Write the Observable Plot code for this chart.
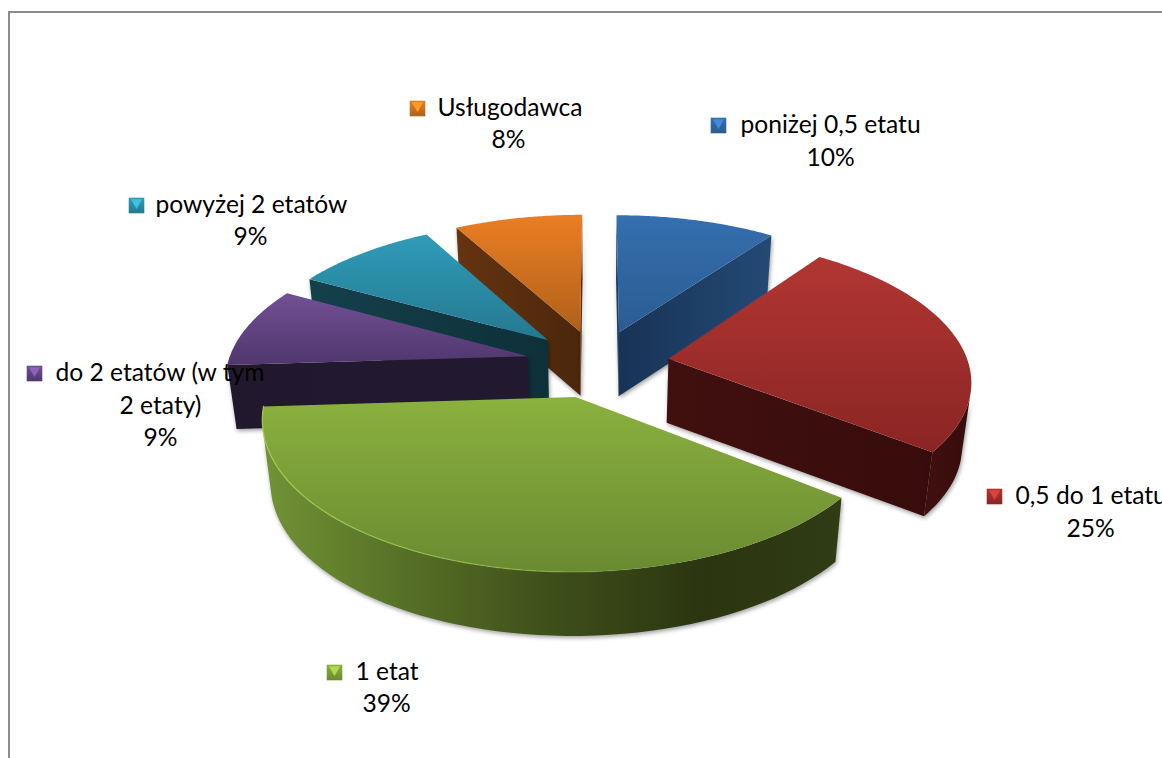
<!DOCTYPE html>
<html lang="pl">
<head>
<meta charset="utf-8">
<script src="https://cdn.jsdelivr.net/npm/d3@7"></script>
<script src="https://cdn.jsdelivr.net/npm/@observablehq/plot@0.6"></script>
<style>
  html, body { margin: 0; padding: 0; background: #fff; overflow: hidden; width: 1162px; height: 758px; }
  #frame { position: absolute; left: 8px; top: 11px; right: 0; bottom: 0; border-left: 2px solid #8c8c8c; border-top: 2px solid #8c8c8c; }
  #chart { position: absolute; left: 0; top: 0; }
</style>
</head>
<body>
<div id="frame"></div>
<div id="chart"></div>
<script>
// ---- data ----
const categories = ["poniżej 0,5 etatu", "0,5 do 1 etatu", "1 etat", "do 2 etatów (w tym 2 etaty)", "powyżej 2 etatów", "Usługodawca"];
const shares = [10, 25.5, 38.5, 9, 9, 8];

// ---- styles, per slice ----
const topLight  = ["#356fae", "#b13633", "#8bb13e", "#724f95", "#2f9cb8", "#ea7e23"];
const topDark   = ["#2a5c92", "#8a2523", "#6a8a31", "#4f376d", "#257890", "#b0601a"];
const faceLeft  = ["#183355", "#40100f", "#6d8e33", "#22182e", "#14404c", "#663410"];
const faceRight = ["#234a75", "#380c0c", "#2e3a13", "#221830", "#0e3039", "#4b270c"];
const drawOrder = [5, 0, 4, 3, 1, 2];

// ---- label layout ----
const labelLines = [
  [{dy: 0, t: "poniżej 0,5 etatu", a: "start"}, {cx: 830, dy: 33, t: "10%"}],
  [{dy: 0, t: "0,5 do 1 etatu", a: "start"}, {cx: 1090, dy: 33, t: "25%"}],
  [{dy: 0, t: "1 etat", a: "start"}, {cx: 386, dy: 32, t: "39%"}],
  [{dy: 0, t: "do 2 etatów (w tym", a: "start"}, {cx: 160, dy: 33, t: "2 etaty)"}, {cx: 160, dy: 65, t: "9%"}],
  [{dy: 0, t: "powyżej 2 etatów", a: "start"}, {cx: 250, dy: 32, t: "9%"}],
  [{dy: 0, t: "Usługodawca", a: "start"}, {cx: 508, dy: 32, t: "8%"}]
];
const labelX = [740, 1015, 355, 55, 155, 437];
const labelY = [125, 496, 672, 373, 205, 108];
const swatchX = [718, 994, 334, 34, 136, 417];

// ---- 3D pie model: values -> projected outlines ----
const C = {cx: 597, cy: 363, R: 300, explode: 72, tilt: 0.47, D: 2190, depth: 64, shrink: 0.975};
const rad = d => d * Math.PI / 180;
function project(X, Y, low) {
  const p = 1 / (1 - Y / C.D);
  const sx = C.cx + X * p * (low ? C.shrink : 1);
  const sy = C.cy + C.tilt * Y * p + (low ? C.depth : 0);
  return {x: sx, y: sy};
}
const total = d3.sum(shares);
let acc = 0;
const slices = shares.map((v, i) => {
  const a0 = acc / total * 360; acc += v; const a1 = acc / total * 360;
  const mid = rad((a0 + a1) / 2);
  const ox = C.explode * Math.sin(mid), oy = -C.explode * Math.cos(mid);
  const rim = (a, low) => project(ox + C.R * Math.sin(rad(a)), oy - C.R * Math.cos(rad(a)), low);
  const apex = low => project(ox, oy, low);
  const angs = d3.range(0, 61).map(k => a0 + (a1 - a0) * k / 60);
  return {i, a0, a1, rim, apex, angs};
});
const area2 = pts => d3.polygonArea(pts.map(p => [p.x, p.y]));

// ---- gradients ----
function grad(id, x2, y2, stops) {
  return `<linearGradient id="${id}" x1="0" y1="0" x2="${x2}" y2="${y2}">` +
    stops.map(([o, c, a]) => `<stop offset="${o}" stop-color="${c}"${a != null ? ` stop-opacity="${a}"` : ""}/>`).join("") +
    `</linearGradient>`;
}
const defsMarkup = shares.map((_, i) =>
  grad(`top${i}`, 0, 1, [[0, topLight[i]], [1, topDark[i]]]) +
  grad(`face${i}`, 1, 0, [[0, faceLeft[i]], [1, faceRight[i]]])
).join("") +
  grad("wall2", 1, 0, [[0, "#729335"], [0.25, "#566f26"], [0.5, "#3e4f1a"], [0.76, "#2b3510"], [1, "#303c14"]]) +
  grad("rim2", 1, 0, [[0, "#a6cc55", 0.9], [0.5, "#9cc04c", 0.5], [0.72, "#7c9a3a", 0]]);
const defsMark = () => {
  const g = document.createElementNS("http://www.w3.org/2000/svg", "g");
  g.innerHTML = `<defs>${defsMarkup}</defs>`;
  return g;
};

const shadow = (index, scales, values, dims, ctx, next) => {
  const g = next(index, scales, values, dims, ctx);
  g.style.filter = "drop-shadow(1px 2px 2px rgba(0,0,0,0.38))";
  return g;
};
const poly = (pts, fill, extra = {}) => Plot.line(pts, {x: "x", y: "y", fill, stroke: "none", curve: "linear", ...extra});

const sliceMarks = drawOrder.flatMap(i => {
  const s = slices[i], marks = [];
  const topPts = [s.apex(false), ...s.angs.map(a => s.rim(a, false))];
  const faces = [
    [s.apex(false), s.rim(s.a0, false), s.rim(s.a0, true), s.apex(true)],
    [s.rim(s.a1, false), s.apex(false), s.apex(true), s.rim(s.a1, true)]
  ];
  for (const f of faces) if (area2(f) > 0) marks.push(poly(f, `url(#face${i})`, {render: shadow}));
  const vis = s.angs.filter(a => {
    const q = [s.rim(a, false), s.rim(a + 0.5, false), s.rim(a + 0.5, true), s.rim(a, true)];
    return area2(q) > 0;
  });
  if (vis.length > 1) {
    const wall = [...vis.map(a => s.rim(a, false)), ...vis.slice().reverse().map(a => s.rim(a, true))];
    marks.push(poly(wall, i === 2 ? "url(#wall2)" : `url(#face${i})`, {render: shadow}));
  }
  marks.push(poly(topPts, `url(#top${i})`));
  if (i === 2) {
    marks.push(Plot.line(s.angs.map(a => s.rim(a, false)), {x: "x", y: "y", stroke: "url(#rim2)", strokeWidth: 1.3, curve: "linear"}));
  }
  return marks;
});

// ---- label tables ----
const textRows = labelLines.flatMap((lines, i) => lines.map(l => ({
  x: l.cx ?? labelX[i], y: labelY[i] + l.dy, t: l.t, a: l.a ?? "middle"
})));
const swatches = categories.map((c, i) => ({c, i, x: swatchX[i], y: labelY[i]}));

const plot = Plot.plot({
  width: 1162, height: 758, margin: 0,
  x: {domain: [0, 1162], range: [0, 1162], axis: null},
  y: {domain: [0, 758], range: [0, 758], axis: null},
  style: {background: "transparent"},
  marks: [
    defsMark,
    ...sliceMarks,
    ...swatches.map(d => Plot.dot([d], {x: "x", y: "y", symbol: "square", r: 8.8, fill: `url(#top${d.i})`, stroke: "none"})),
    ...swatches.map(d => Plot.dot([d], {x: "x", y: d => d.y - 3, symbol: "triangle", r: 4.2, rotate: 180, fill: d3.color(topLight[d.i]).brighter(0.6).formatHex(), stroke: "none"})),
    Plot.text(textRows.filter(d => d.a === "start"), {x: "x", y: "y", text: "t", textAnchor: "start", fontFamily: "Lato", fontSize: 24.6, fill: "#000"}),
    Plot.text(textRows.filter(d => d.a === "middle"), {x: "x", y: "y", text: "t", textAnchor: "middle", fontFamily: "Lato", fontSize: 24.6, fill: "#000"})
  ]
});
document.getElementById("chart").appendChild(plot);
</script>
</body>
</html>
